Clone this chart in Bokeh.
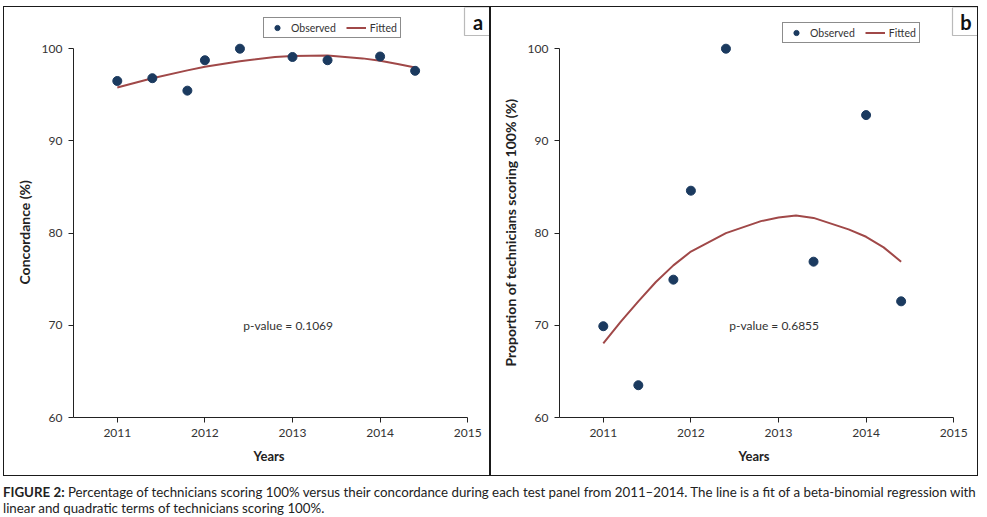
import numpy as np
from bokeh.plotting import figure
from bokeh.models import (Range1d, FixedTicker, Label, Legend, LegendItem,
                          BoxAnnotation, Div, Title)
from bokeh.layouts import row, column
from bokeh.embed import file_html
from bokeh.resources import INLINE

# ---------------- data ----------------
years_a = [2011.0, 2011.4, 2011.8, 2012.0, 2012.4, 2013.0, 2013.4, 2014.0, 2014.4]
concordance_a = [96.5, 96.8, 95.45, 98.75, 100.0, 99.1, 98.75, 99.15, 97.6]
fit_years_a = [2011.0, 2011.4, 2011.8, 2012.0, 2012.4, 2012.8, 2013.0, 2013.4,
               2013.8, 2014.0, 2014.2, 2014.4]
fit_a = [95.8, 96.8, 97.65, 98.05, 98.65, 99.1, 99.2, 99.25,
         98.95, 98.7, 98.35, 97.95]

years_b = [2011.0, 2011.4, 2011.8, 2012.0, 2012.4, 2013.4, 2014.0, 2014.4]
proportion_b = [69.9, 63.5, 74.95, 84.6, 100.0, 76.9, 92.8, 72.6]
fit_years_b = [2011.0, 2011.2, 2011.4, 2011.6, 2011.8, 2012.0, 2012.4, 2012.8,
               2013.0, 2013.2, 2013.4, 2013.8, 2014.0, 2014.2, 2014.4]
fit_b = [68.05, 70.4, 72.6, 74.7, 76.5, 78.0, 80.0, 81.3,
         81.7, 81.9, 81.65, 80.4, 79.6, 78.45, 76.9]

x_ticks = [2011, 2012, 2013, 2014, 2015]
y_ticks = [60, 70, 80, 90, 100]
x_bounds = (2010.5, 2015)
y_bounds = (60, 100)

FONT = "Lato"
DOT = "#1b3a5f"
LINE = "#a04848"
INK = "#222222"

H = 470
FRAME_H = 410
PX_YEAR = 87.6
PX_UNIT = 9.22


def make_panel(width, left_border, xs, ys, fxs, fys, ylabel, ptext, letter,
               legend_loc, y_title_offset, x_title_offset):
    frame_w = width - left_border
    x0 = x_bounds[0]
    x1 = x0 + frame_w / PX_YEAR
    y0 = y_bounds[0]
    y1 = y0 + FRAME_H / PX_UNIT

    def fx(px):
        return x0 + px / PX_YEAR

    def fy(py):
        return y1 - py / PX_UNIT

    p = figure(width=width, height=H, output_backend="svg", toolbar_location=None,
               x_range=Range1d(x0, x1), y_range=Range1d(y0, y1),
               min_border_left=left_border, min_border_right=0,
               min_border_top=0, min_border_bottom=H - FRAME_H)
    p.styles = {"border": "1px solid #1a1a1a", "box-sizing": "border-box"}
    p.outline_line_color = None
    p.grid.visible = False
    p.background_fill_color = "white"
    p.border_fill_color = "white"

    for ax, ticks, bnds in ((p.xaxis, x_ticks, x_bounds), (p.yaxis, y_ticks, y_bounds)):
        ax.ticker = FixedTicker(ticks=ticks)
        ax.bounds = bnds
        ax.minor_tick_line_color = None
        ax.major_tick_in = 0
        ax.major_tick_out = 5
        ax.axis_line_color = INK
        ax.major_tick_line_color = INK
        ax.major_label_text_font = FONT
        ax.major_label_text_font_size = "12px"
        ax.major_label_text_color = "#333333"
        ax.major_label_standoff = 6

    ln = p.line(fxs, fys, line_color=LINE, line_width=2)
    sc = p.scatter(xs, ys, size=9, fill_color=DOT, line_color=DOT)

    legend = Legend(items=[LegendItem(label="Observed", renderers=[sc]),
                           LegendItem(label="Fitted", renderers=[ln])],
                    location=legend_loc, orientation="horizontal",
                    label_text_font=FONT, label_text_font_size="10.5px",
                    label_text_color="#333333", glyph_width=20, glyph_height=13,
                    label_height=13, label_standoff=4, spacing=10, padding=3,
                    margin=0, border_line_color="#1a1a1a", border_line_width=1.5,
                    background_fill_alpha=1)
    p.add_layout(legend)

    # panel letter box
    p.add_layout(BoxAnnotation(left=fx(frame_w - 27), right=x1, top=y1,
                               bottom=fy(28), fill_color="white", fill_alpha=1,
                               line_color="#1a1a1a", line_width=1.2))
    p.add_layout(Label(x=fx(frame_w - 13.5), y=fy(14), text=letter,
                       text_font=FONT, text_font_style="bold",
                       text_font_size="20px", text_color="#111111",
                       text_align="center", text_baseline="middle"))

    # p-value
    p.add_layout(Label(x=2012.95, y=70, text=ptext, text_font=FONT,
                       text_font_size="12px", text_color="#333333",
                       text_align="center", text_baseline="middle"))

    # axis titles
    p.add_layout(Title(text=ylabel, align="left", offset=y_title_offset, standoff=12,
                       text_font=FONT, text_font_style="bold",
                       text_font_size="14px", text_color="#222222"), "left")
    p.add_layout(Title(text="Years", align="left", offset=x_title_offset,
                       standoff=13, text_font=FONT, text_font_style="bold",
                       text_font_size="13px", text_color="#222222"), "below")
    return p


pa = make_panel(487, 69, years_a, concordance_a, fit_years_a, fit_a,
                "Concordance (%)", "p-value = 0.1069", "a", (190, 379), 133, 180)
pb = make_panel(488, 68, years_b, proportion_b, fit_years_b, fit_b,
                "Proportion of technicians scoring 100% (%)", "p-value = 0.6855",
                "b", (223, 374), 51, 179)

caption = Div(
    text=("<b>FIGURE 2:</b> Percentage of technicians scoring 100% versus their "
          "concordance during each test panel from 2011\u20132014. The line is a fit of "
          "a beta-binomial regression with<br>linear and quadratic terms of "
          "technicians scoring 100%."),
    width=978, margin=(8, 0, 0, 3),
    styles={"font-family": "Lato, sans-serif",
            "font-size": "13.3px", "line-height": "16px", "color": "#222222",
            "white-space": "nowrap"})

layout = column(row(pa, pb, margin=(6, 0, 0, 3)), caption)
open("out.html", "w").write(file_html(layout, INLINE))
